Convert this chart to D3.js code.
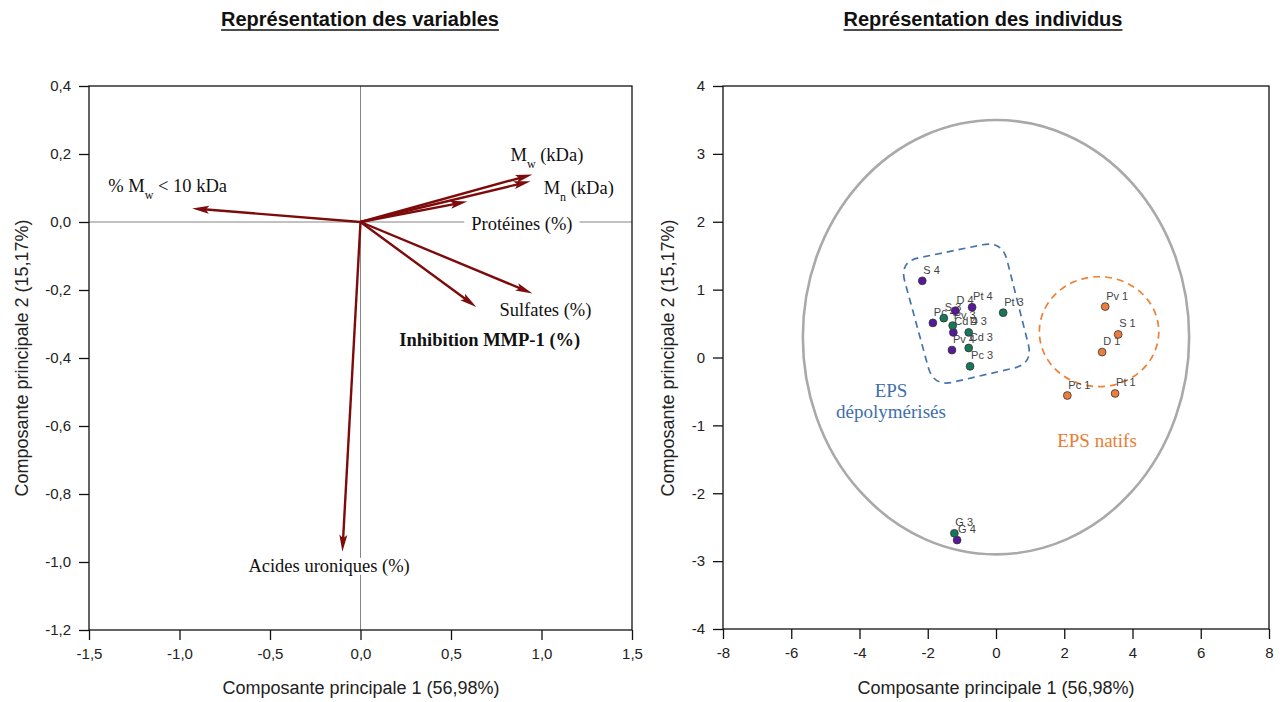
<!DOCTYPE html>
<html><head>
<meta charset="utf-8">
<title>ACP - variables et individus</title>
<script src="https://cdnjs.cloudflare.com/ajax/libs/d3/7.8.5/d3.min.js"></script>
<style>
  body { margin: 0; background: #fff; }
  svg text { font-family: "Liberation Sans", Arial, sans-serif; fill: #222; }
  svg text.serif { font-family: "Liberation Serif", "Times New Roman", serif; }
  .frame { fill: none; stroke: #111; stroke-width: 1.3; }
  .tick line { stroke: #111; stroke-width: 1.3; }
  .domain { stroke: none; }
  .zero { stroke: #777; stroke-width: 0.9; }
</style>
</head>
<body>
<svg id="chart" width="1280" height="702"></svg>
<script>

// --- Représentation des variables (loadings) ---
let varNames = ["% M_w < 10 kDa", "M_w (kDa)", "M_n (kDa)", "Protéines (%)", "Sulfates (%)", "Inhibition MMP-1 (%)", "Acides uroniques (%)"];
let varPC1 = [-0.93, 0.95, 0.94, 0.59, 0.95, 0.64, -0.10];
let varPC2 = [0.04, 0.14, 0.12, 0.06, -0.21, -0.25, -0.97];
let leftXTicks = [-1.5, -1.0, -0.5, 0.0, 0.5, 1.0, 1.5];
let leftYTicks = [-1.2, -1.0, -0.8, -0.6, -0.4, -0.2, 0.0, 0.2, 0.4];

// --- Représentation des individus (scores) ---
let indNames = ["S 4", "Pt 4", "D 4", "Pc 4", "Cd 4", "Pv 4", "G 4",
                "Pt 3", "S 3", "Pv 3", "D 3", "Cd 3", "Pc 3", "G 3",
                "Pv 1", "S 1", "D 1", "Pc 1", "Pt 1"];
let indPC1 = [-2.16, -0.70, -1.19, -1.85, -1.25, -1.29, -1.14,
              0.21, -1.53, -1.27, -0.80, -0.80, -0.76, -1.22,
              3.20, 3.58, 3.11, 2.09, 3.49];
let indPC2 = [1.13, 0.74, 0.69, 0.51, 0.37, 0.11, -2.69,
              0.66, 0.58, 0.47, 0.37, 0.14, -0.13, -2.59,
              0.75, 0.34, 0.08, -0.56, -0.53];
let indSeries = [4, 4, 4, 4, 4, 4, 4, 3, 3, 3, 3, 3, 3, 3, 1, 1, 1, 1, 1];
let rightXTicks = [-8, -6, -4, -2, 0, 2, 4, 6, 8];
let rightYTicks = [-4, -3, -2, -1, 0, 1, 2, 3, 4];

// groupings drawn on the individuals map
let depolyX = [-2.83, 0.18, 1.09, -1.83];
let depolyY = [1.41, 1.72, -0.09, -0.43];
let nativeEllipse = [3.02, 0.38, 1.75, 0.81];   // cx, cy, rx, ry
let globalEllipse = [0.0, 0.30, 5.66, 3.20];

let svg = d3.select("#chart");
svg.append("rect").attr("width", 1280).attr("height", 702).attr("fill", "#fff");

let fmt1 = d => d3.format(".1f")(d).replace(".", ",").replace("−", "-");
let fmt0 = d => String(d);

// ------------------------------------------------------------------
// helper: frame + axes
function drawFrame(x, y, xt, yt, fmt) {
  let g = svg.append("g");
  g.append("g")
    .attr("transform", "translate(0," + y.range()[0] + ")")
    .call(d3.axisBottom(x).tickValues(xt).tickFormat(fmt).tickSize(10).tickPadding(8))
    .attr("font-size", 15).attr("font-family", null);
  g.append("g")
    .attr("transform", "translate(" + x.range()[0] + ",0)")
    .call(d3.axisLeft(y).tickValues(yt).tickFormat(fmt).tickSize(10).tickPadding(8))
    .attr("font-size", 15).attr("font-family", null);
  g.append("rect").attr("class", "frame")
    .attr("x", x.range()[0]).attr("y", y.range()[1])
    .attr("width", x.range()[1] - x.range()[0])
    .attr("height", y.range()[0] - y.range()[1]);
  return g;
}

function title(txt, cx) {
  let t = svg.append("text").attr("x", cx).attr("y", 26)
    .attr("text-anchor", "middle").style("font-size", "20px").style("font-weight", "bold")
    .style("fill", "#111").text(txt);
  let w = t.node().getComputedTextLength();
  svg.append("line").attr("x1", cx - w / 2).attr("x2", cx + w / 2)
    .attr("y1", 30).attr("y2", 30).attr("stroke", "#111").attr("stroke-width", 1.6);
}

function axisTitles(cx, cy, yx) {
  svg.append("text").attr("x", cx).attr("y", 694).attr("text-anchor", "middle")
    .style("font-size", "18px").text("Composante principale 1 (56,98%)");
  svg.append("text").attr("transform", "translate(" + yx + "," + cy + ") rotate(-90)")
    .attr("text-anchor", "middle").style("font-size", "18px")
    .text("Composante principale 2 (15,17%)");
}

// text with "_x" subscripts
function richText(sel, s) {
  let parts = s.split(/_(\w)/);
  parts.forEach((p, i) => {
    if (!p) return;
    let ts = sel.append("tspan").text(p);
    if (i % 2 === 1) ts.attr("baseline-shift", "sub").style("font-size", "12px");
  });
}

// ================= LEFT : variables =================
let xL = d3.scaleLinear().domain([-1.5, 1.5]).range([89, 632]);
let yL = d3.scaleLinear().domain([-1.2, 0.4]).range([630, 86]);

title("Représentation des variables", 360);
axisTitles(361, 358, 28);

svg.append("line").attr("class", "zero")
  .attr("x1", xL(0)).attr("x2", xL(0)).attr("y1", yL.range()[1]).attr("y2", yL.range()[0]);
svg.append("line").attr("class", "zero")
  .attr("x1", xL.range()[0]).attr("x2", xL.range()[1]).attr("y1", yL(0)).attr("y2", yL(0));

drawFrame(xL, yL, leftXTicks, leftYTicks, fmt1);

// label offsets from arrow tip (px)
let labelOffset = {
  0: [-84, -16], 1: [-22, -13], 2: [13, 13], 3: [4, 9],
  4: [-33, 23], 5: [-77, 39], 6: [-94, 20]
};

let arrowCol = "#7d0b0b";
let arrows = svg.append("g");
varNames.forEach((n, i) => {
  let x0 = xL(0), y0 = yL(0), x1 = xL(varPC1[i]), y1 = yL(varPC2[i]);
  let a = Math.atan2(y1 - y0, x1 - x0);
  let hl = 17, hw = 4;
  let bx = x1 - hl * Math.cos(a), by = y1 - hl * Math.sin(a);
  arrows.append("line").attr("x1", x0).attr("y1", y0)
    .attr("x2", x1 - 8 * Math.cos(a)).attr("y2", y1 - 8 * Math.sin(a))
    .attr("stroke", arrowCol).attr("stroke-width", 2.4);
  let pts = [[x1, y1],
    [bx + hw * Math.sin(a), by - hw * Math.cos(a)],
    [x1 - hl * 0.8 * Math.cos(a), y1 - hl * 0.8 * Math.sin(a)],
    [bx - hw * Math.sin(a), by + hw * Math.cos(a)]];
  arrows.append("path").attr("d", "M" + pts.join("L") + "Z").attr("fill", arrowCol);
});

let labels = svg.append("g");
varNames.forEach((n, i) => {
  let o = labelOffset[i];
  let lx = xL(varPC1[i]) + o[0], ly = yL(varPC2[i]) + o[1];
  if (i === 3) { ly = yL(0) + 8; }
  let t = labels.append("text").attr("class", "serif").attr("x", lx).attr("y", ly)
    .style("font-size", "18.5px").style("fill", "#111");
  if (i === 5) t.style("font-weight", "bold");
  richText(t, n);
  if (i === 3 || i === 6) {
    let b = t.node().getBBox();
    labels.insert("rect", "text").attr("x", b.x - 7).attr("y", b.y + 2)
      .attr("width", b.width + 14).attr("height", b.height - 4).attr("fill", "#fff");
  }
});

// ================= RIGHT : individus =================
let xR = d3.scaleLinear().domain([-8, 8]).range([723, 1269]);
let yR = d3.scaleLinear().domain([-4, 4]).range([629, 86]);

title("Représentation des individus", 983);
axisTitles(996, 358, 674);
drawFrame(xR, yR, rightXTicks, rightYTicks, fmt0);

let kx = xR(1) - xR(0), ky = yR(0) - yR(1);
svg.append("ellipse")
  .attr("cx", xR(globalEllipse[0])).attr("cy", yR(globalEllipse[1]))
  .attr("rx", globalEllipse[2] * kx).attr("ry", globalEllipse[3] * ky)
  .attr("fill", "none").attr("stroke", "#a9a9a9").attr("stroke-width", 2.6);

svg.append("ellipse")
  .attr("cx", xR(nativeEllipse[0])).attr("cy", yR(nativeEllipse[1]))
  .attr("rx", nativeEllipse[2] * kx).attr("ry", nativeEllipse[3] * ky)
  .attr("fill", "none").attr("stroke", "#ee8135").attr("stroke-width", 1.7)
  .attr("stroke-dasharray", "7,5");

// rounded quadrilateral around the depolymerised EPS
let corners = depolyX.map((d, i) => [xR(d), yR(depolyY[i])]);
let r = 20, path = "";
corners.forEach((c, i) => {
  let p = corners[(i + 3) % 4], nx = corners[(i + 1) % 4];
  let d1 = Math.hypot(p[0] - c[0], p[1] - c[1]), d2 = Math.hypot(nx[0] - c[0], nx[1] - c[1]);
  let s = [c[0] + (p[0] - c[0]) * r / d1, c[1] + (p[1] - c[1]) * r / d1];
  let e = [c[0] + (nx[0] - c[0]) * r / d2, c[1] + (nx[1] - c[1]) * r / d2];
  path += (i === 0 ? "M" : "L") + s + "Q" + c + " " + e;
});
path += "Z";
svg.append("path").attr("d", path).attr("fill", "none")
  .attr("stroke", "#4773ad").attr("stroke-width", 1.7).attr("stroke-dasharray", "7,5");

// group captions
svg.append("text").attr("class", "serif").attr("x", 891).attr("y", 397)
  .attr("text-anchor", "middle").style("font-size", "19px").style("fill", "#3f6eae").text("EPS");
svg.append("text").attr("class", "serif").attr("x", 891).attr("y", 418)
  .attr("text-anchor", "middle").style("font-size", "19px").style("fill", "#3f6eae").text("dépolymérisés");
svg.append("text").attr("class", "serif").attr("x", 1097).attr("y", 447)
  .attr("text-anchor", "middle").style("font-size", "19px").style("fill", "#ea7d33").text("EPS natifs");

let seriesColor = { 1: "#ec7d3c", 3: "#17775a", 4: "#55199a" };
let order = d3.range(indNames.length).sort((a, b) => indSeries[b] - indSeries[a]);
let pts = svg.append("g");
order.forEach(i => {
  pts.append("text").attr("x", xR(indPC1[i]) + 1).attr("y", yR(indPC2[i]) - 7)
    .style("font-size", "11px").style("fill", "#444").text(indNames[i]);
});
order.forEach(i => {
  pts.append("circle").attr("cx", xR(indPC1[i])).attr("cy", yR(indPC2[i])).attr("r", 3.9)
    .attr("fill", seriesColor[indSeries[i]]).attr("stroke", "#333").attr("stroke-width", 0.8);
});

</script>
</body>
</html>
